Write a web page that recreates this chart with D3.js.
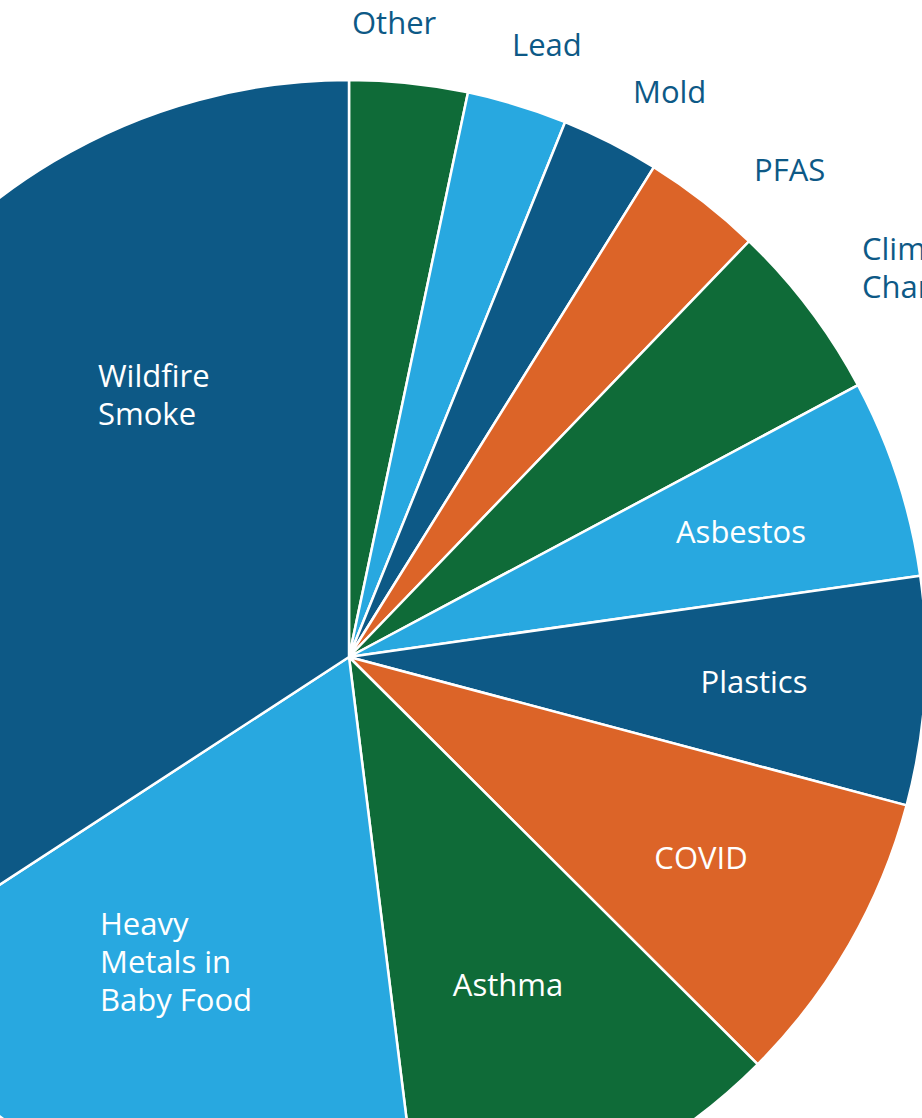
<!DOCTYPE html>
<html>
<head>
<meta charset="utf-8">
<script src="https://cdn.jsdelivr.net/npm/d3@7"></script>
<style>
  html, body { margin: 0; padding: 0; background: #fff; overflow: hidden; }
  svg { display: block; }
  text { font-family: "Open Sans", sans-serif; font-size: 31px; }
</style>
</head>
<body>
<svg id="chart" width="922" height="1118"></svg>
<script>
// Data (slice sizes, in degrees of the full circle)
const categories = ["Other", "Lead", "Mold", "PFAS", "Climate Change", "Asbestos",
  "Plastics", "COVID", "Asthma", "Heavy Metals in Baby Food", "Wildfire Smoke"];
const values = [11.9, 10.1, 9.9, 12.0, 18.0, 20.0, 23.0, 30.0, 38.0, 64.0, 123.1];
const colorKeys = ["green", "light", "dark", "orange", "green", "light",
  "dark", "orange", "green", "light", "dark"];
const labelLines = [["Other"], ["Lead"], ["Mold"], ["PFAS"], ["Climate", "Change"],
  ["Asbestos"], ["Plastics"], ["COVID"], ["Asthma"], ["Heavy", "Metals in", "Baby Food"],
  ["Wildfire", "Smoke"]];

const palette = { dark: "#0d5986", light: "#28a8e0", green: "#0f6b38", orange: "#dc6428" };

const W = 922, H = 1118;
const cx = 349, cy = 657, R = 577;

const svg = d3.select("#chart");
const g = svg.append("g").attr("transform", `translate(${cx},${cy})`);

const data = categories.map((c, i) => ({ name: c, value: values[i], color: palette[colorKeys[i]], lines: labelLines[i] }));

const pie = d3.pie().sort(null).value(d => d.value);
const arc = d3.arc().innerRadius(0).outerRadius(R);
const arcs = pie(data);

g.selectAll("path.slice")
  .data(arcs)
  .join("path")
  .attr("class", "slice")
  .attr("d", arc)
  .attr("fill", d => d.data.color)
  .attr("stroke", "#fff")
  .attr("stroke-width", 2.5)
  .attr("stroke-linejoin", "round");

// Label layout (placement only; relative to the pie centre)
const labelLayout = {
  "Other":          { x: 3,   y: -623, anchor: "start", outside: true },
  "Lead":           { x: 163, y: -601, anchor: "start", outside: true },
  "Mold":           { x: 284, y: -554, anchor: "start", outside: true },
  "PFAS":           { x: 405, y: -476, anchor: "start", outside: true },
  "Climate Change": { x: 513, y: -397, anchor: "start", outside: true },
  "Asbestos":       { x: 392, y: -114, anchor: "middle" },
  "Plastics":       { x: 405, y: 36,   anchor: "middle" },
  "COVID":          { x: 352, y: 212,  anchor: "middle" },
  "Asthma":         { x: 159, y: 339,  anchor: "middle" },
  "Heavy Metals in Baby Food": { x: -249, y: 278, anchor: "start" },
  "Wildfire Smoke": { x: -251, y: -270, anchor: "start" }
};
const lineH = 38;

const labels = g.selectAll("text.lbl")
  .data(arcs)
  .join("text")
  .attr("class", "lbl")
  .attr("x", d => labelLayout[d.data.name].x)
  .attr("y", d => labelLayout[d.data.name].y)
  .attr("text-anchor", d => labelLayout[d.data.name].anchor)
  .attr("fill", d => labelLayout[d.data.name].outside ? "#0d5986" : "#ffffff");

labels.each(function(d) {
  const t = d3.select(this);
  const L = labelLayout[d.data.name];
  d.data.lines.forEach((ln, i) => {
    t.append("tspan").attr("x", L.x).attr("dy", i === 0 ? 0 : lineH).text(ln);
  });
});
</script>
</body>
</html>
